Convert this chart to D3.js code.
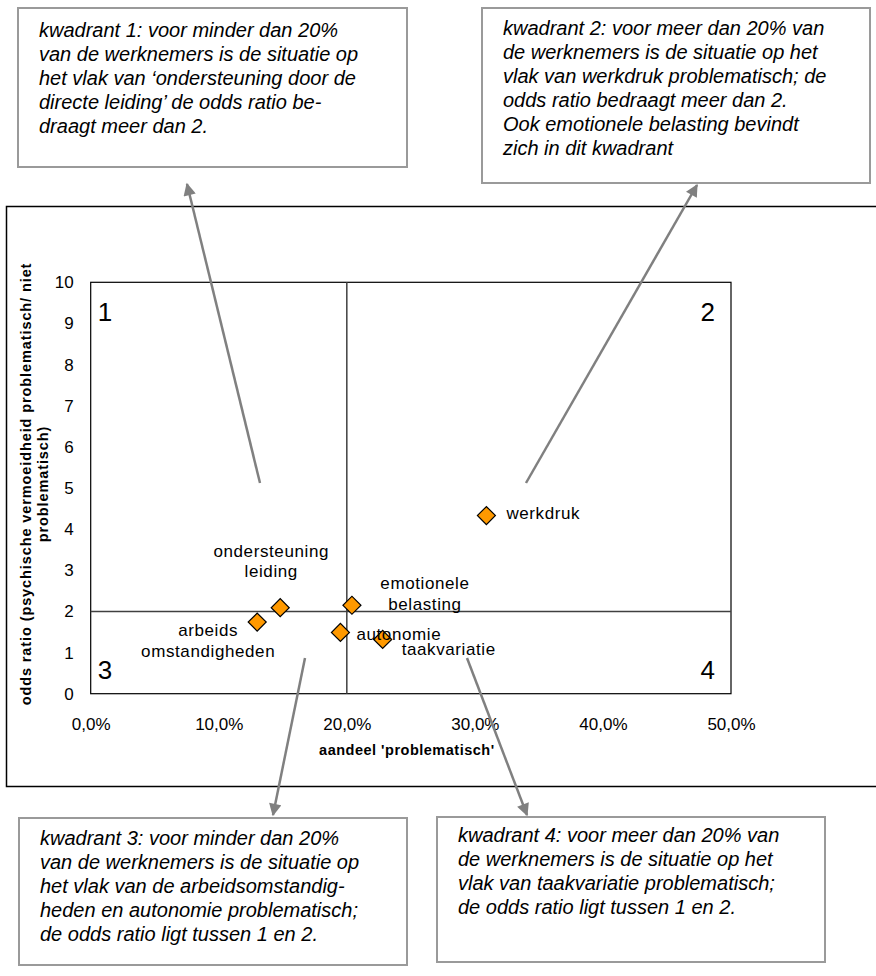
<!DOCTYPE html>
<html>
<head>
<meta charset="utf-8">
<script src="https://cdn.jsdelivr.net/npm/d3@7"></script>
<style>
  body { margin: 0; background: #fff; }
  svg { display: block; font-family: "Liberation Sans", Arial, sans-serif; }
  .box rect { fill: #fff; stroke: #9a9a9a; stroke-width: 2; }
  .box text { font-size: 20px; font-style: italic; fill: #000; }
  .tick text { font-size: 17px; fill: #000; }
  .lbl { font-size: 17px; letter-spacing: 0.6px; fill: #000; }
  .quad { font-size: 26px; fill: #000; }
  .title { font-size: 14.5px; font-weight: bold; fill: #000; }
</style>
</head>
<body>
<svg id="chart" width="876" height="976"></svg>
<script>
// gegevens
const factors = ['werkdruk', 'ondersteuning leiding', 'arbeids omstandigheden', 'emotionele belasting', 'autonomie', 'taakvariatie'];
const share = [0.309, 0.148, 0.130, 0.204, 0.195, 0.228];
const oddsRatio = [4.33, 2.09, 1.74, 2.15, 1.49, 1.32];
const xTicks = [0, 0.1, 0.2, 0.3, 0.4, 0.5];
const yTicks = [0, 1, 2, 3, 4, 5, 6, 7, 8, 9, 10];
const shareCut = 0.2;
const oddsCut = 2;
const quadrants = ['1', '2', '3', '4'];

const box1 = ['kwadrant 1: voor minder dan 20%', 'van de werknemers is de situatie op', 'het vlak van \u2018ondersteuning door de', 'directe leiding\u2019 de odds ratio be-', 'draagt meer dan 2.'];
const box2 = ['kwadrant 2: voor meer dan 20% van', 'de werknemers is de situatie op het', 'vlak van werkdruk problematisch; de', 'odds ratio bedraagt meer dan 2.', 'Ook emotionele belasting bevindt', 'zich in dit kwadrant'];
const box3 = ['kwadrant 3: voor minder dan 20%', 'van de werknemers is de situatie op', 'het vlak van de arbeidsomstandig-', 'heden en autonomie problematisch;', 'de odds ratio ligt tussen 1 en 2.'];
const box4 = ['kwadrant 4: voor meer dan 20% van', 'de werknemers is de situatie op het', 'vlak van taakvariatie problematisch;', 'de odds ratio ligt tussen 1 en 2.'];

const svg = d3.select('#chart');

const x = d3.scaleLinear().domain([0, 0.5]).range([90.7, 731]);
const y = d3.scaleLinear().domain([0, 10]).range([693.7, 282.3]);

// tekstvakken
function textBox(lines, bx, by, bw, bh, firstBase) {
  const g = svg.append('g').attr('class', 'box');
  g.append('rect').attr('x', bx).attr('y', by).attr('width', bw).attr('height', bh);
  g.append('text')
    .selectAll('tspan')
    .data(lines)
    .enter()
    .append('tspan')
    .attr('x', bx + 21)
    .attr('y', (d, i) => firstBase + i * 23.9)
    .text(d => d);
}
textBox(box1, 18, 8, 389, 159, 37);
textBox(box2, 482, 8, 388, 175, 35);
textBox(box3, 19, 818, 388, 147, 845);
textBox(box4, 437, 817, 388, 145, 842);

// kader rond grafiek
svg.append('rect')
  .attr('x', 6.5).attr('y', 206.5)
  .attr('width', 900).attr('height', 580)
  .attr('fill', 'none').attr('stroke', '#000').attr('stroke-width', 1.5);

const plot = svg.append('g');

plot.append('rect')
  .attr('x', x(0)).attr('y', y(10))
  .attr('width', x(0.5) - x(0)).attr('height', y(0) - y(10))
  .attr('fill', '#fff').attr('stroke', '#000').attr('stroke-width', 1.2);

// kwadrantlijnen
plot.append('line')
  .attr('x1', x(shareCut)).attr('x2', x(shareCut))
  .attr('y1', y(10)).attr('y2', y(0))
  .attr('stroke', '#404040').attr('stroke-width', 1.5);
plot.append('line')
  .attr('x1', x(0)).attr('x2', x(0.5))
  .attr('y1', y(oddsCut)).attr('y2', y(oddsCut))
  .attr('stroke', '#404040').attr('stroke-width', 1.5);

// assen
const fmt = d => d3.format('.1%')(d).replace('.', ',');
plot.append('g')
  .attr('transform', `translate(0, ${y(0)})`)
  .call(d3.axisBottom(x).tickValues(xTicks).tickFormat(fmt).tickSize(0).tickPadding(24))
  .call(g => g.select('.domain').remove())
  .selectAll('text').attr('font-family', null).attr('font-size', null);

plot.append('g')
  .attr('transform', `translate(${x(0)}, 0)`)
  .call(d3.axisLeft(y).tickValues(yTicks).tickFormat(d3.format('d')).tickSize(0).tickPadding(17))
  .call(g => g.select('.domain').remove())
  .selectAll('text').attr('font-family', null).attr('font-size', null);

// kwadrantnummers
const qPos = [
  [x(0) + 7, y(10) + 39, 'start'],
  [x(0.5) - 16, y(10) + 39, 'end'],
  [x(0) + 7, y(0) - 15, 'start'],
  [x(0.5) - 16, y(0) - 15, 'end']
];
plot.selectAll('.quad')
  .data(quadrants)
  .enter()
  .append('text')
  .attr('class', 'quad')
  .attr('x', (d, i) => qPos[i][0])
  .attr('y', (d, i) => qPos[i][1])
  .attr('text-anchor', (d, i) => qPos[i][2])
  .text(d => d);

// punten
const points = factors.map((f, i) => ({ name: f, share: share[i], odds: oddsRatio[i] }));

plot.selectAll('.pt')
  .data(points)
  .enter()
  .append('path')
  .attr('class', 'pt')
  .attr('d', d3.symbol().type(d3.symbolSquare).size(162))
  .attr('transform', d => `translate(${x(d.share)}, ${y(d.odds)}) rotate(45)`)
  .attr('fill', '#ff9900')
  .attr('stroke', '#000')
  .attr('stroke-width', 1.2);

// labels naast de punten (verschuiving in px)
const labelOffset = {
  'werkdruk': [20, 3.5, 'start', false],
  'ondersteuning leiding': [-9, -51, 'middle', true],
  'arbeids omstandigheden': [-49, 14, 'middle', true],
  'emotionele belasting': [73, -16, 'middle', true],
  'autonomie': [16, 7.5, 'start', false],
  'taakvariatie': [19, 15.5, 'start', false]
};
points.forEach(d => {
  const o = labelOffset[d.name];
  const lines = o[3] ? d.name.split(' ') : [d.name];
  plot.append('text')
    .attr('class', 'lbl')
    .attr('text-anchor', o[2])
    .selectAll('tspan')
    .data(lines)
    .enter()
    .append('tspan')
    .attr('x', x(d.share) + o[0])
    .attr('y', (l, i) => y(d.odds) + o[1] + i * 20.5)
    .text(l => l);
});

// astitels
svg.append('text')
  .attr('class', 'title')
  .attr('x', (x(0) + x(0.5)) / 2 - 4)
  .attr('y', 755)
  .attr('text-anchor', 'middle')
  .attr('letter-spacing', 0.5)
  .text("aandeel 'problematisch'");

const yTitle = svg.append('text')
  .attr('class', 'title')
  .attr('transform', 'translate(31, 484) rotate(-90)')
  .attr('text-anchor', 'middle')
  .attr('letter-spacing', 0.9);
yTitle.append('tspan').attr('x', 0).attr('y', 0).text('odds ratio (psychische vermoeidheid problematisch/ niet');
yTitle.append('tspan').attr('x', 0).attr('y', 17).text('problematisch)');

// pijlen
svg.append('defs').append('marker')
  .attr('id', 'head')
  .attr('viewBox', '0 0 10 10')
  .attr('refX', 9).attr('refY', 5)
  .attr('markerWidth', 5.5).attr('markerHeight', 5)
  .attr('markerUnits', 'strokeWidth')
  .attr('orient', 'auto')
  .append('path')
  .attr('d', 'M0,0 L10,5 L0,10 Z')
  .attr('fill', '#808080');

const arrows = [
  [260, 483, 187, 184],
  [526, 483, 697, 185],
  [305, 658, 273, 815],
  [467, 658, 527, 815]
];
svg.selectAll('.arrow')
  .data(arrows)
  .enter()
  .append('line')
  .attr('class', 'arrow')
  .attr('x1', d => d[0]).attr('y1', d => d[1])
  .attr('x2', d => d[2]).attr('y2', d => d[3])
  .attr('stroke', '#808080')
  .attr('stroke-width', 2.5)
  .attr('marker-end', 'url(#head)');
</script>
</body>
</html>
